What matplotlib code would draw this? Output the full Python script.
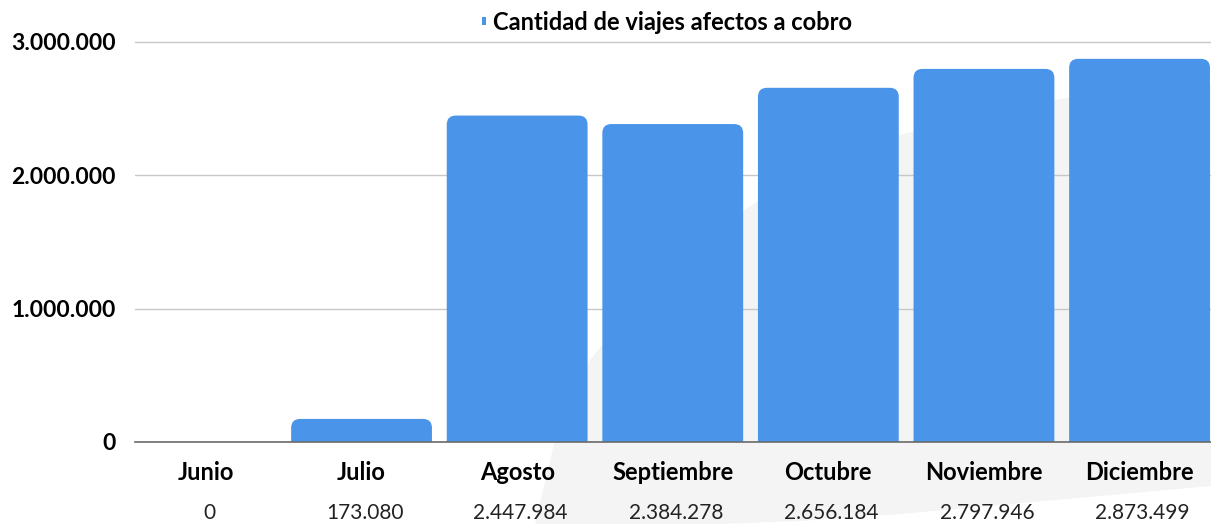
import matplotlib
matplotlib.use("Agg")
import matplotlib.pyplot as plt
from matplotlib.patches import PathPatch, Polygon
from matplotlib.path import Path

plt.rcParams['font.family'] = ['Lato', 'DejaVu Sans']

# datos
meses = ['Junio', 'Julio', 'Agosto', 'Septiembre', 'Octubre', 'Noviembre', 'Diciembre']
viajes = [0, 173080, 2447984, 2384278, 2656184, 2797946, 2873499]
serie = 'Cantidad de viajes afectos a cobro'
yticks = [0, 1000000, 2000000, 3000000]

AZUL = '#4a94e9'


def fmt(v):
    return f'{v:,}'.replace(',', '.')


W, H = 1211, 524
fig = plt.figure(figsize=(W / 100, H / 100), dpi=100)

# marca de agua gris muy clara de fondo
pts_px = [(535, 524), (555, 440), (590, 360), (650, 285), (720, 225), (800, 175),
          (900, 135), (1000, 108), (1100, 93), (1211, 86), (1211, 486),
          (1100, 496), (1000, 505), (900, 514), (800, 521), (720, 524)]
fig.patches.append(Polygon([(x / W, 1 - y / H) for x, y in pts_px], closed=True,
                           transform=fig.transFigure, facecolor='#f4f4f4',
                           edgecolor='none', zorder=-5))

ax = fig.add_axes([135 / W, (H - 442) / H, 1 - 135 / W, 406.7 / H])
ax.set_zorder(1)
ax.patch.set_alpha(0)

x = list(range(len(meses)))
bars = ax.bar(x, viajes, width=0.905, color=AZUL, label=serie, zorder=2)
ax.set_xlim(-0.456, -0.456 + (W - 135) / 155.6)
ax.set_ylim(0, 3050000)

# esquinas redondeadas arriba
fig.canvas.draw()
p0 = ax.transData.transform((0, 0))
p1 = ax.transData.transform((1, 1000000))
px_x = p1[0] - p0[0]
px_y = (p1[1] - p0[1]) / 1000000
rx = 9 / px_x
ry = 9 / px_y
for b in bars:
    h = b.get_height()
    b.set_visible(False)
    if h <= 0:
        continue
    x0, w = b.get_x(), b.get_width()
    x1 = x0 + w
    verts = [(x0, 0), (x0, h - ry), (x0, h), (x0 + rx, h), (x1 - rx, h),
             (x1, h), (x1, h - ry), (x1, 0), (x0, 0)]
    codes = [Path.MOVETO, Path.LINETO, Path.CURVE3, Path.CURVE3, Path.LINETO,
             Path.CURVE3, Path.CURVE3, Path.LINETO, Path.CLOSEPOLY]
    ax.add_patch(PathPatch(Path(verts, codes), facecolor=AZUL,
                           edgecolor='none', zorder=2))

for s in ax.spines.values():
    s.set_visible(False)
ax.set_yticks(yticks)
ax.set_yticklabels([fmt(v) for v in yticks], fontsize=16.5, fontweight='bold')
ax.grid(axis='y', color='#c8c8c8', linewidth=1, zorder=1)
ax.axhline(0, color='#6a6a6a', linewidth=1.2, zorder=3, clip_on=False)
ax.tick_params(axis='y', length=0, pad=14)
ax.tick_params(axis='x', length=0, pad=14)
ax.set_xticks(x)
ax.set_xticklabels(meses, fontsize=17, fontweight='bold')

for i, v in enumerate(viajes):
    ax.annotate(fmt(v), xy=(i, 0), xycoords=('data', 'axes fraction'),
                xytext=(3, -71), textcoords='offset pixels',
                ha='center', va='center', fontsize=15, color='#222222')

leg = fig.legend(handles=[bars], labels=[serie], loc='center',
                 bbox_to_anchor=(667 / W, 1 - 22 / H), frameon=False,
                 fontsize=17, handlelength=0.18, handleheight=0.18,
                 handletextpad=0.3, borderpad=0)
for t in leg.get_texts():
    t.set_fontweight('bold')
for hd in leg.legend_handles:
    hd.set_visible(True)

fig.savefig('out.png', dpi=100)
